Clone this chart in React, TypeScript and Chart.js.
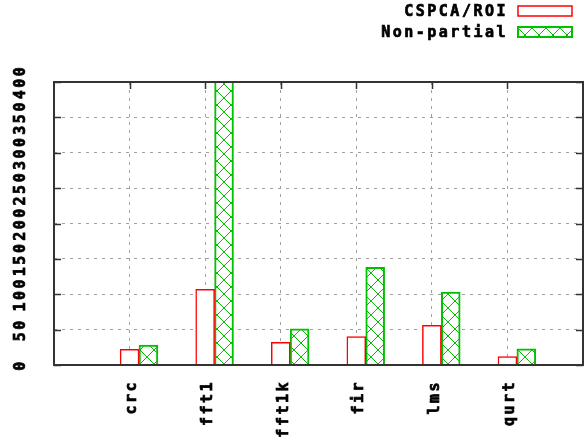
import React, { useEffect, useRef } from 'react';
import { Chart, registerables } from 'chart.js';

Chart.register(...registerables);

// ---- data ----
const categories = ['crc', 'fft1', 'fft1k', 'fir', 'lms', 'qurt'];
const cspcaRoi = [22, 107, 32, 40, 56, 12];
const nonPartial = [28, 430, 51, 138, 103, 23];
const seriesLabels = ['CSPCA/ROI', 'Non-partial'];
const yMin = 0;
const yMax = 400;
const yStep = 50;

const FONT_FAMILY = '"DejaVu Sans Mono", "Liberation Mono", monospace';
const FONT_SIZE = 15;
const SPACING = '2.5px';
const TEXT_STROKE = 0.7;
const RED = '#ff0000';
const GREEN = '#00c000';
const FRAME = '#333333';

function makePattern(): CanvasPattern | string {
  const s = 14;
  const c = document.createElement('canvas');
  c.width = s;
  c.height = s;
  const g = c.getContext('2d');
  if (!g) return '#ffffff';
  g.fillStyle = '#ffffff';
  g.fillRect(0, 0, s, s);
  g.strokeStyle = GREEN;
  g.lineWidth = 1;
  g.beginPath();
  g.moveTo(0, 0);
  g.lineTo(s, s);
  g.moveTo(s, 0);
  g.lineTo(0, s);
  g.stroke();
  return g.createPattern(c, 'repeat') || '#ffffff';
}

const spacingPlugin = {
  id: 'letterSpacing',
  beforeUpdate(chart: any) {
    (chart.ctx as any).letterSpacing = SPACING;
  },
  beforeDraw(chart: any) {
    (chart.ctx as any).letterSpacing = SPACING;
  },
};

const framePlugin = {
  id: 'frame',
  afterDatasetsDraw(chart: any) {
    const { ctx, chartArea } = chart;
    const { left, right, top, bottom } = chartArea;
    const ys = chart.scales.y;
    const xs = chart.scales.x;
    const tl = 7;
    ctx.save();
    ctx.strokeStyle = FRAME;
    ctx.lineWidth = 1.5;
    ctx.beginPath();
    ys.ticks.forEach((t: any) => {
      const y = Math.round(ys.getPixelForValue(t.value)) + 0.5;
      ctx.moveTo(left, y);
      ctx.lineTo(left + tl, y);
      ctx.moveTo(right, y);
      ctx.lineTo(right - tl, y);
    });
    xs.ticks.forEach((t: any) => {
      if (t.value < 1 || t.value > categories.length) return;
      const x = Math.round(xs.getPixelForValue(t.value)) + 0.5;
      ctx.moveTo(x, top);
      ctx.lineTo(x, top + tl);
    });
    ctx.stroke();
    ctx.lineWidth = 2;
    ctx.strokeRect(left, top, right - left, bottom - top);
    ctx.restore();
  },
};

const legendPlugin = {
  id: 'gpLegend',
  afterDraw(chart: any) {
    const { ctx } = chart;
    const ds = chart.data.datasets;
    const textRight = 508;
    const boxX = 518;
    const boxW = 54;
    const boxH = 10;
    const rows = [11, 32];
    ctx.save();
    (ctx as any).letterSpacing = SPACING;
    ctx.font = `bold ${FONT_SIZE}px ${FONT_FAMILY}`;
    ctx.textAlign = 'right';
    ctx.textBaseline = 'middle';
    ds.forEach((d: any, i: number) => {
      const cy = rows[i];
      ctx.fillStyle = '#000';
      ctx.strokeStyle = '#000';
      ctx.lineWidth = TEXT_STROKE;
      ctx.strokeText(d.label, textRight, cy + 1);
      ctx.fillText(d.label, textRight, cy + 1);
      const by = cy - boxH / 2;
      ctx.fillStyle = d.backgroundColor;
      ctx.fillRect(boxX, by, boxW, boxH);
      ctx.strokeStyle = d.borderColor;
      ctx.lineWidth = d.borderWidth;
      ctx.strokeRect(boxX, by, boxW, boxH);
    });
    ctx.restore();
  },
};

export default function App() {
  const ref = useRef<HTMLCanvasElement | null>(null);

  useEffect(() => {
    document.body.style.margin = '0';
    const canvas = ref.current;
    if (!canvas) return;
    const pattern = makePattern();
    const font = { family: FONT_FAMILY, size: FONT_SIZE, weight: 'bold' as const };

    const chart = new Chart(canvas, {
      type: 'bar',
      data: {
        datasets: [
          {
            label: seriesLabels[0],
            data: cspcaRoi.map((v, i) => ({ x: i + 1, y: v })),
            backgroundColor: '#ffffff',
            borderColor: RED,
            borderWidth: 1.5,
            grouped: false,
            categoryPercentage: 1,
            barPercentage: 1,
          } as any,
          {
            label: seriesLabels[1],
            data: nonPartial.map((v, i) => ({ x: i + 1.25, y: v })),
            backgroundColor: pattern,
            borderColor: GREEN,
            borderWidth: 2,
            grouped: false,
            categoryPercentage: 1,
            barPercentage: 1,
          } as any,
        ],
      },
      options: {
        responsive: false,
        animation: false,
        events: [],
        layout: { padding: { top: 82, right: 5, left: 0, bottom: 0 } },
        plugins: {
          legend: { display: false },
          tooltip: { enabled: false },
        },
        scales: {
          x: {
            type: 'linear',
            min: 0,
            max: categories.length + 1,
            offset: false,
            position: 'bottom',
            afterFit: (s: any) => {
              s.height = 74;
              s.paddingLeft = 0;
              s.paddingRight = 0;
            },
            grid: {
              color: '#a0a0a0',
              lineWidth: 1,
              drawTicks: false,
              offset: false,
            },
            border: { display: false, dash: [3, 5] },
            ticks: {
              stepSize: 1,
              autoSkip: false,
              minRotation: 90,
              maxRotation: 90,
              padding: 15,
              labelOffset: 3,
              color: '#000',
              textStrokeColor: '#000',
              textStrokeWidth: TEXT_STROKE,
              font,
              callback: (v: any) => {
                const n = Number(v);
                return Number.isInteger(n) && n >= 1 && n <= categories.length ? categories[n - 1] : '';
              },
            },
          },
          y: {
            type: 'linear',
            min: yMin,
            max: yMax,
            afterFit: (s: any) => {
              s.width = 54;
              s.paddingTop = 0;
              s.paddingBottom = 0;
            },
            grid: {
              color: '#a0a0a0',
              lineWidth: 1,
              drawTicks: false,
            },
            border: { display: false, dash: [3, 5] },
            ticks: {
              stepSize: yStep,
              autoSkip: false,
              minRotation: 90,
              maxRotation: 90,
              crossAlign: 'center',
              padding: 16,
              color: '#000',
              textStrokeColor: '#000',
              textStrokeWidth: TEXT_STROKE,
              font,
            },
          },
        },
      } as any,
      plugins: [spacingPlugin, framePlugin, legendPlugin],
    });
    return () => chart.destroy();
  }, []);

  return (
    <div style={{ width: 588, height: 439, background: '#fff' }}>
      <canvas ref={ref} width={588} height={439} style={{ display: 'block' }} />
    </div>
  );
}
